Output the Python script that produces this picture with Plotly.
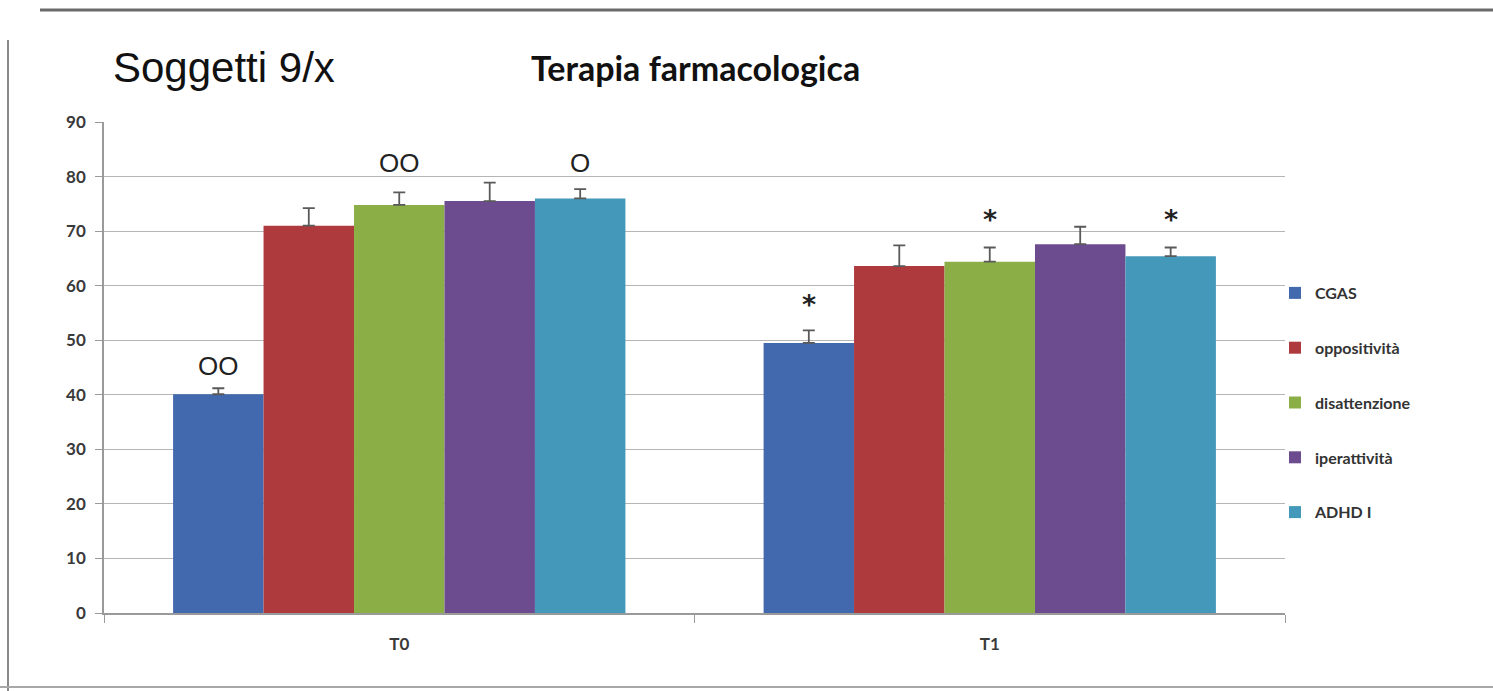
import plotly.graph_objects as go

categories = ["T0", "T1"]
series_names = ["CGAS", "oppositività", "disattenzione", "iperattività", "ADHD I"]
colors = ["#4268AE", "#AE3A3D", "#8BAF46", "#6C4C8F", "#4499BA"]

values = {
    "CGAS": [40.1, 49.5],
    "oppositività": [71.0, 63.6],
    "disattenzione": [74.8, 64.4],
    "iperattività": [75.5, 67.6],
    "ADHD I": [76.0, 65.4],
}
errors = {
    "CGAS": [1.1, 2.3],
    "oppositività": [3.2, 3.8],
    "disattenzione": [2.3, 2.6],
    "iperattività": [3.4, 3.2],
    "ADHD I": [1.7, 1.6],
}
# significance marks: (category index, series index, text, y value)
marks_text = ["OO", "OO", "O", "*", "*", "*"]
marks_cat = [0, 0, 0, 1, 1, 1]
marks_series = [0, 2, 4, 0, 2, 4]
marks_y = [45.4, 82.6, 82.6, 57.2, 72.8, 72.8]

y_ticks = list(range(0, 91, 10))

W, H = 1493, 691
L, R, T, B = 104, 208, 122, 78
BARGAP = 0.234

fig = go.Figure()
for name, col in zip(series_names, colors):
    fig.add_trace(go.Bar(
        name=name, x=categories, y=values[name],
        marker=dict(color=col, line=dict(width=0)),
        error_y=dict(type="data", array=errors[name], symmetric=False,
                     arrayminus=[0] * len(categories),
                     color="#5a5a5a", thickness=1.8, width=6),
        legendgroup=name,
    ))

n = len(series_names)
group_w = 1 - BARGAP
bar_w = group_w / n
for txt, ci, si, yv in zip(marks_text, marks_cat, marks_series, marks_y):
    xc = ci - group_w / 2 + bar_w * (si + 0.5)
    if txt == "*":
        fnt = dict(family="DejaVu Sans", size=27, color="#222222", weight="bold")
        ys = -4
    else:
        fnt = dict(family="Liberation Sans", size=26, color="#222222")
        ys = -1
    fig.add_annotation(x=xc, y=yv, text=txt, showarrow=False,
                       xref="x", yref="y", yanchor="middle", yshift=ys, font=fnt)

# scanned frame lines
def px2paper_x(px):
    return (px - L) / (W - L - R)

def px2paper_y(py):
    return (H - B - py) / (H - T - B)

frame = [
    (40, 10, 1493, 10, "#6a6a6a", 3),
    (8, 40, 8, 691, "#8a8a8a", 2),
    (0, 687, 1493, 687, "#a8a8a8", 2),
]
for x0, y0, x1, y1, c, w in frame:
    fig.add_shape(type="line", xref="paper", yref="paper",
                  x0=px2paper_x(x0), y0=px2paper_y(y0),
                  x1=px2paper_x(x1), y1=px2paper_y(y1),
                  line=dict(color=c, width=w))

fig.add_annotation(text="Soggetti 9/x", xref="paper", yref="paper",
                   x=px2paper_x(111), y=px2paper_y(67), xanchor="left", yanchor="middle",
                   showarrow=False, font=dict(family="Liberation Sans", size=42, color="#111111"))
fig.add_annotation(text="<b>Terapia farmacologica</b>", xref="paper", yref="paper",
                   x=px2paper_x(695), y=px2paper_y(67), xanchor="center", yanchor="middle",
                   showarrow=False, font=dict(family="Lato", size=34, color="#111111"))

tickfont = dict(family="Lato", size=17, color="#3a3a3a", weight="bold")

fig.update_layout(
    width=W, height=H, autosize=False,
    margin=dict(l=L, r=R, t=T, b=B),
    paper_bgcolor="white", plot_bgcolor="white",
    barmode="group", bargap=BARGAP, bargroupgap=0,
    showlegend=True,
    legend=dict(x=px2paper_x(1275), y=px2paper_y(276), xanchor="left", yanchor="top",
                font=dict(family="Lato", size=16, color="#333333", weight="bold"),
                tracegroupgap=31, itemwidth=30, bgcolor="rgba(0,0,0,0)"),
    xaxis=dict(showline=True, linecolor="#9a9a9a", linewidth=1.5,
               ticks="outside", tickson="boundaries", ticklen=8, tickcolor="#9a9a9a",
               tickfont=tickfont, ticklabelstandoff=15,
               showgrid=False, range=[-0.5, 1.5]),
    yaxis=dict(range=[0, 90], tickvals=y_ticks, showline=True, linecolor="#9a9a9a",
               linewidth=1.5, ticks="outside", ticklen=7, tickcolor="#9a9a9a",
               showgrid=True, gridcolor="#b5b5b5", gridwidth=1.2,
               tickfont=tickfont, ticklabelstandoff=6,
               zeroline=False),
)

fig.write_html("out.html", config={"displayModeBar": False},
               post_script="document.body.style.margin='0px';")
